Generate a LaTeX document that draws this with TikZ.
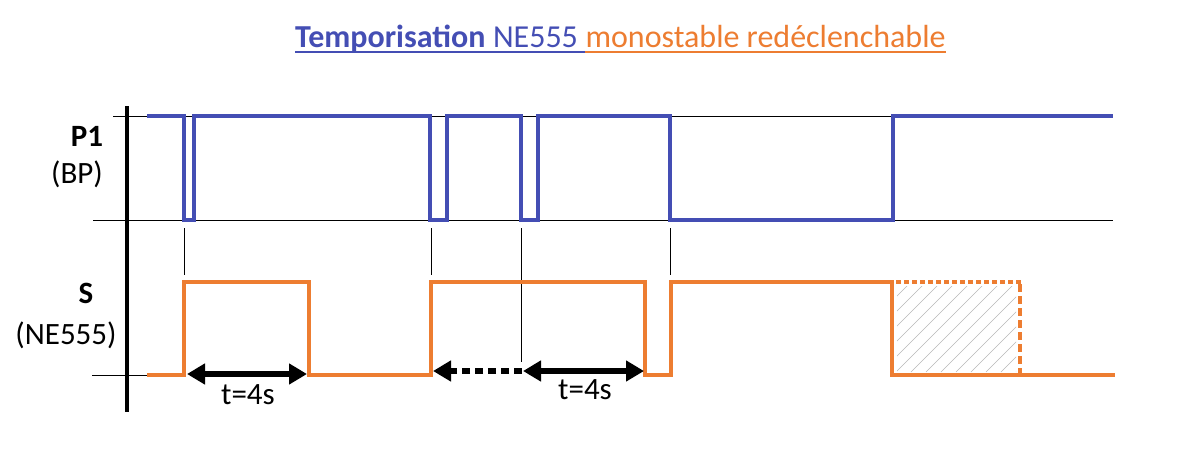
\documentclass[tikz,border=0pt]{standalone}
\usepackage{fontspec}
\setmainfont{Carlito}
\usetikzlibrary{arrows.meta}
\definecolor{sigblue}{RGB}{68,78,180}
\definecolor{sigorange}{RGB}{237,125,49}
\begin{document}
\begin{tikzpicture}[x=1pt,y=-1pt,
  thinline/.style={black,line width=1pt},
  bluesig/.style={sigblue,line width=4.8pt},
  orangesig/.style={sigorange,line width=4.8pt},
  bigtip/.tip={Triangle[length=18pt,width=20pt]},
  dimarrow/.style={line width=6pt,bigtip-bigtip},
  lbl/.style={font=\fontsize{31}{37}\selectfont,inner sep=0pt},
  blbl/.style={font=\fontsize{31}{37}\selectfont\bfseries,inner sep=0pt},
  ttl/.style={anchor=base west,inner sep=0pt,font=\fontsize{32}{38}\selectfont}
]
\useasboundingbox[fill=white] (0,0) rectangle (1182,455);

% title
\node[ttl,text=sigblue,font=\fontsize{32}{38}\selectfont\bfseries] (t1) at (295,47) {Temporisation};
\node[ttl,text=sigblue] (t2) at ([xshift=7.2pt]t1.base east) {NE555};
\node[ttl,text=sigorange] (t3) at ([xshift=7.2pt]t2.base east) {monostable redéclenchable};
\draw[sigblue,line width=2.4pt] ([yshift=-5pt]t1.base west) -- ([yshift=-5pt]t1.base east);
\draw[sigblue,line width=1.8pt] ([yshift=-5pt]t1.base east) -- ([yshift=-5pt]t3.base west);
\draw[sigorange,line width=1.8pt] ([yshift=-5pt]t3.base west) -- ([yshift=-5pt]t3.base east);

% labels
\node[blbl] (p1) at (87,136) {P1};
\node[lbl] (bp) at (77,174) {(BP)};
\node[blbl] (s) at (86,293) {S};
\node[lbl] (ne) at (66,335) {(NE555)};

% reference lines
\draw[thinline] (113,116) -- (1113,116);
\draw[thinline] (93,220) -- (1113,220);
\draw[thinline] (92,375) -- (147,375);
\draw[thinline] (184,228) -- (184,275);
\draw[thinline] (431,228) -- (431,275);
\draw[thinline] (670,228) -- (670,275);
\draw[thinline] (521,228) -- (521,362);

% hatched area
\begin{scope}
\clip (897,286) rectangle (1016,372);
\foreach \k in {-7,...,9}
  \draw[black!28,line width=0.6pt] (896+\k*15,372) -- ++(110,-110);
\end{scope}

% P1 signal
\draw[bluesig] (147,116) -- (184,116) -- (184,220) -- (194,220) -- (194,116)
  -- (430,116) -- (430,220) -- (447,220) -- (447,116)
  -- (521,116) -- (521,220) -- (538,220) -- (538,116)
  -- (670,116) -- (670,220) -- (893,220) -- (893,116) -- (1113,116);

% S signal
\draw[orangesig] (147,375) -- (184,375) -- (184,282) -- (309,282) -- (309,375)
  -- (431,375) -- (431,282) -- (645,282) -- (645,375)
  -- (671,375) -- (671,282) -- (892,282) -- (892,375) -- (1115,375);
\draw[sigorange,line width=4.5pt,dash pattern=on 5pt off 3pt] (896,282) -- (1022,282);
\draw[sigorange,line width=4.5pt,dash pattern=on 8pt off 4pt] (1020,284) -- (1020,373);

% time arrows
\coordinate (a1l) at (187,374);
\coordinate (a1r) at (307,374);
\coordinate (a2l) at (433,371);
\coordinate (a2m) at (522,371);
\coordinate (a2r) at (644,371);
\draw[dimarrow] (a1l) -- (a1r);
\draw[line width=6pt,dash pattern=on 8pt off 5pt,-bigtip] (a2m) -- (a2l);
\draw[dimarrow] ([xshift=1pt]a2m) -- (a2r);
\node[lbl] (lab1) at (248,395) {t=4s};
\node[lbl] (lab2) at (585,390) {t=4s};

% axis
\draw[black,line width=4pt] (127,106) -- (127,412);
\end{tikzpicture}
\end{document}
